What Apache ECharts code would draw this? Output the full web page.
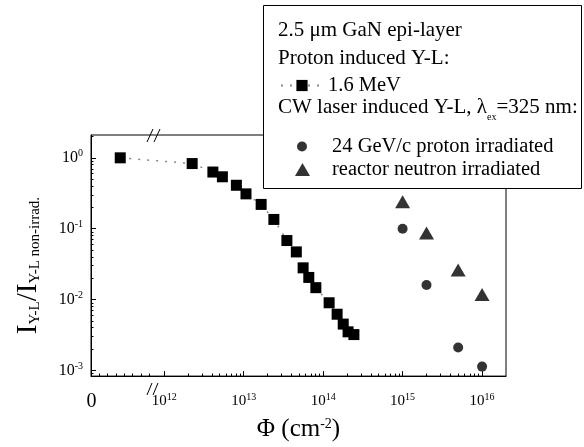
<!DOCTYPE html>
<html><head><meta charset="utf-8">
<script src="https://cdn.jsdelivr.net/npm/echarts@6/dist/echarts.min.js"></script>
<style>html,body{margin:0;padding:0;background:#fff}#c{width:584px;height:447px}</style>
</head><body><div id="c"></div>
<script>
// 1.6 MeV proton induced Y-L; the first point is the non-irradiated reference drawn in the "0" segment of the broken axis
const protonFluence = [2.8e11, 2.25e12, 4.1e12, 5.4e12, 8.1e12, 1.07e13, 1.66e13, 2.4e13, 3.5e13, 4.6e13, 5.6e13, 6.6e13, 8.1e13, 1.19e14, 1.5e14, 1.79e14, 2.06e14, 2.44e14];
const protonYL = [1.0, 0.83, 0.63, 0.54, 0.41, 0.31, 0.22, 0.135, 0.068, 0.047, 0.028, 0.0205, 0.0147, 0.0090, 0.0062, 0.0045, 0.0035, 0.0032];
// CW laser induced Y-L
const gevFluence = [1e15, 2e15, 5e15, 1e16];
const gevYL = [0.10, 0.016, 0.0021, 0.00113];
const neutronFluence = [1e15, 2e15, 5e15, 1e16];
const neutronYL = [0.24, 0.087, 0.026, 0.0118];
// axes
const xMin = 1.2e11, xMax = 2.0e16;
const yMin = 8.3e-4, yMax = 2.1;
const xTickValues = [1e12, 1e13, 1e14, 1e15, 1e16];
const zeroLabelValue = 1.22e11;
const yTickValues = [1e-3, 1e-2, 1e-1, 1];

const FONT = 'Liberation Serif';
const zip = (a, b) => a.map((v, i) => [v, b[i]]);

function logMinor(lo, hi, nFrom, nTo) {
  const out = [];
  for (let n = nFrom; n <= nTo; n++) for (let k = 2; k <= 9; k++) {
    const v = k * Math.pow(10, n);
    if (v > lo && v < hi) out.push(v);
  }
  return out;
}
// minor ticks of the linear "0" segment left of the axis break
const zeroSegMinor = [];
for (let k = 1; k <= 7; k++) zeroSegMinor.push(Math.pow(10, Math.log10(xMin) + k * 0.105));
const xMinor = zeroSegMinor.concat(logMinor(1e12, xMax, 12, 15));
const yMinor = logMinor(yMin, yMax, -4, 0);

const xRich = {
  b: {fontFamily: FONT, fontSize: 15, lineHeight: 18, color: '#000'},
  s: {fontFamily: FONT, fontSize: 10, lineHeight: 10, verticalAlign: 'top', color: '#000'},
  z: {fontFamily: FONT, fontSize: 20, lineHeight: 20, color: '#000'}
};
const yRich = {
  b: {fontFamily: FONT, fontSize: 16, lineHeight: 18, color: '#000'},
  s: {fontFamily: FONT, fontSize: 10, lineHeight: 10, verticalAlign: 'top', color: '#000'}
};
const expFmt = v => '{b|10}{s|' + Math.round(Math.log10(v)) + '}';

const chart = echarts.init(document.getElementById('c'), null, {renderer: 'canvas'});
chart.setOption({
  animation: false,
  backgroundColor: '#fff',
  grid: {left: 91, right: 78, top: 135, bottom: 58, show: true, borderColor: '#000', borderWidth: 1, backgroundColor: 'transparent'},
  xAxis: [{
    type: 'log', min: xMin, max: xMax, position: 'bottom',
    axisLine: {show: true, lineStyle: {color: '#000', width: 1}},
    axisTick: {show: true, inside: true, length: 5, customValues: xTickValues, lineStyle: {color: '#000', width: 1}},
    axisLabel: {customValues: [zeroLabelValue].concat(xTickValues), margin: 16,
      formatter: v => v < 5e11 ? '{z|0}' : expFmt(v), rich: xRich},
    splitLine: {show: false},
    name: 'Φ (cm{s|-2})', nameLocation: 'middle', nameGap: 33,
    nameTextStyle: {fontFamily: FONT, fontSize: 25, color: '#000',
      rich: {s: {fontFamily: FONT, fontSize: 14, lineHeight: 13, verticalAlign: 'top', color: '#000'}}}
  }, {
    type: 'log', min: xMin, max: xMax, position: 'bottom',
    axisLine: {show: false},
    axisTick: {show: true, inside: true, length: 2.5, customValues: xMinor, lineStyle: {color: '#000', width: 1}},
    axisLabel: {show: false}, splitLine: {show: false}
  }],
  yAxis: [{
    type: 'log', min: yMin, max: yMax, position: 'left',
    axisLine: {show: true, lineStyle: {color: '#000', width: 1}},
    axisTick: {show: true, inside: true, length: 5, customValues: yTickValues, lineStyle: {color: '#000', width: 1}},
    axisLabel: {customValues: yTickValues, margin: 8, formatter: expFmt, rich: yRich},
    splitLine: {show: false},
    name: '{I|I}{s|Y-L}{I|/}{I|I}{s|Y-L non-irrad.}', nameLocation: 'middle', nameRotate: 90, nameGap: 48,
    nameTextStyle: {padding: [0, 20, 0, 0],
      rich: {
        I: {fontFamily: FONT, fontSize: 29, lineHeight: 30, color: '#000'},
        s: {fontFamily: FONT, fontSize: 15, lineHeight: 14, verticalAlign: 'bottom', color: '#000'}
      }}
  }, {
    type: 'log', min: yMin, max: yMax, position: 'left',
    axisLine: {show: false},
    axisTick: {show: true, inside: true, length: 2.5, customValues: yMinor, lineStyle: {color: '#000', width: 1}},
    axisLabel: {show: false}, splitLine: {show: false}
  }],
  legend: [{
    data: ['1.6 MeV'], left: 280, top: 75, itemWidth: 42, itemHeight: 14, padding: 0,
    selectedMode: false, z: 20, textStyle: {fontFamily: FONT, fontSize: 20.5, color: '#000'}
  }, {
    data: ['24 GeV/c proton irradiated'], left: 297, top: 136, itemWidth: 10, itemHeight: 10, padding: 0,
    selectedMode: false, z: 20, textStyle: {fontFamily: FONT, fontSize: 20.5, color: '#000', padding: [0, 0, 0, 20]}
  }, {
    data: ['reactor neutron irradiated'], left: 295, top: 159, itemWidth: 15, itemHeight: 13, padding: 0,
    selectedMode: false, z: 20, textStyle: {fontFamily: FONT, fontSize: 20.5, color: '#000', padding: [0, 0, 0, 17]}
  }],
  graphic: [
    {type: 'rect', z: 10, shape: {x: 263.5, y: 5.5, width: 318, height: 183},
      style: {fill: '#fff', stroke: '#000', lineWidth: 1}},
    {type: 'text', z: 20, left: 278, top: 20, style: {text: '2.5 μm GaN epi-layer', font: '21px "Liberation Serif"', fill: '#000'}},
    {type: 'text', z: 20, left: 278, top: 48, style: {text: 'Proton induced Y-L:', font: '21px "Liberation Serif"', fill: '#000'}},
    {type: 'text', z: 20, left: 278, top: 97, style: {text: 'CW laser induced Y-L, λ{e|ex}=325 nm:', font: '21px "Liberation Serif"', fill: '#000',
      rich: {e: {fontSize: 10, fontFamily: FONT, verticalAlign: 'bottom', lineHeight: 10, padding: [0, 0, -4, 0]}}}},
    // axis break marks
    {type: 'line', z: 12, shape: {x1: 147, y1: 142, x2: 153, y2: 129}, style: {stroke: '#000', lineWidth: 1}},
    {type: 'line', z: 12, shape: {x1: 154, y1: 142, x2: 160, y2: 129}, style: {stroke: '#000', lineWidth: 1}},
    {type: 'line', z: 12, shape: {x1: 147, y1: 395, x2: 152, y2: 383}, style: {stroke: '#000', lineWidth: 1}},
    {type: 'line', z: 12, shape: {x1: 153, y1: 395, x2: 158, y2: 383}, style: {stroke: '#000', lineWidth: 1}}
  ],
  series: [{
    name: '1.6 MeV', type: 'line', data: zip(protonFluence, protonYL),
    symbol: 'rect', symbolSize: 11, itemStyle: {color: '#000'},
    lineStyle: {color: '#888', width: 1.5, type: [2, 7]}, z: 3
  }, {
    name: '24 GeV/c proton irradiated', type: 'scatter', data: zip(gevFluence, gevYL),
    symbol: 'circle', symbolSize: 10, itemStyle: {color: '#000'}, z: 3
  }, {
    name: 'reactor neutron irradiated', type: 'scatter', data: zip(neutronFluence, neutronYL),
    symbol: 'triangle', symbolSize: [15, 13], itemStyle: {color: '#000'}, z: 3
  }]
});
</script></body></html>
